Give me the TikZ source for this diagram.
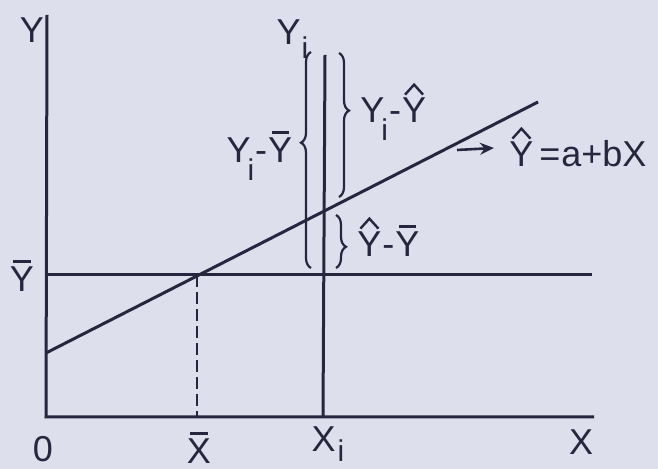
\documentclass[tikz,border=0pt]{standalone}
\usepackage{fontspec}
\setmainfont{Liberation Sans}
\setsansfont{Liberation Sans}
\usetikzlibrary{decorations.pathreplacing,arrows.meta}
\definecolor{bg}{RGB}{221,224,236}
\definecolor{ink}{RGB}{38,38,62}
\newsavebox\accbox
\newcommand\barY{\leavevmode\sbox\accbox{Y}\rlap{\raisebox{\dimexpr\ht\accbox+2.2pt}{\makebox[\wd\accbox]{\color{ink}\rule{0.72\wd\accbox}{1.3pt}}}}\usebox\accbox}
\newcommand\barX{\leavevmode\sbox\accbox{X}\rlap{\raisebox{\dimexpr\ht\accbox+2.2pt}{\makebox[\wd\accbox]{\color{ink}\rule{0.72\wd\accbox}{1.3pt}}}}\usebox\accbox}
\newcommand\hatY{\leavevmode\sbox\accbox{Y}\rlap{\raisebox{\dimexpr\ht\accbox+1.8pt}{\makebox[\wd\accbox]{\tikz[x=1pt,y=1pt,line width=1.2pt,baseline=0pt]\draw[ink,line join=miter] (0,0)--(4.5,5)--(9,0);}}}\usebox\accbox}
\newcommand\subi[1][-6pt]{\raisebox{#1}{\fontsize{15}{15}\selectfont i}}
\begin{document}
\begin{tikzpicture}[x=0.5pt,y=-0.5pt,line width=1.5pt,draw=ink,text=ink,
  lbl/.style={font=\fontsize{18}{21}\selectfont,inner sep=0pt},
  brc/.style={decorate,decoration={brace,amplitude=5pt,raise=0pt},line width=1.1pt},
  dashline/.style={dash pattern=on 6pt off 2.5pt,line width=1.4pt}]
\path[use as bounding box,fill=bg] (0,0) rectangle (658,469);
% axes
\coordinate (O) at (46,417);
\coordinate (Ytop) at (47,15);
\coordinate (Xend) at (594,417);
\draw (Ytop) -- (O) -- (Xend);
% mean line
\coordinate (Ybl) at (46,275);
\coordinate (Ybr) at (592,275);
\draw (Ybl) -- (Ybr);
% regression line
\coordinate (R0) at (46,353);
\coordinate (R1) at (538,102);
\draw (R0) -- (R1);
% dashed at Xbar
\coordinate (Xb) at (197,417);
\coordinate (Xbt) at (197,275);
\draw[dashline] (Xbt) -- (Xb);
% Xi line
\coordinate (Xi) at (323,417);
\coordinate (Xit) at (325,55);
\draw (Xi) -- (Xit);
% braces
\coordinate (B1a) at (311,268);
\coordinate (B1b) at (311,52);
\draw[brc,decoration={aspect=0.58}] (B1a) -- (B1b);
\coordinate (B2a) at (339,53);
\coordinate (B2b) at (339,197);
\draw[brc,decoration={aspect=0.4}] (B2a) -- (B2b);
\coordinate (B3a) at (336,215);
\coordinate (B3b) at (336,268);
\draw[brc,decoration={aspect=0.6}] (B3a) -- (B3b);
% labels
\node[lbl,anchor=base] (lY) at (32,43) {Y};
\node[lbl,anchor=base] (lYb) at (22,292) {\barY};
\node[lbl,anchor=base] (l0) at (43,462) {0};
\node[lbl,anchor=base] (lXb) at (199,464) {\barX};
\node[lbl,anchor=base west] (lXi) at (310,452) {X\kern1pt\subi[-5pt]};
\node[lbl,anchor=base] (lX) at (581,455) {X};
\node[lbl,anchor=base west] (lYi) at (275,45) {Y\kern0.5pt\subi[-7pt]};
\node[lbl,anchor=base west] (lYiYb) at (225,163) {Y\kern-1.5pt\subi[-9pt]\kern0.5pt-\kern0.5pt\barY};
\node[lbl,anchor=base west] (lYiYh) at (360,123) {Y\kern-1.5pt\subi[-9pt]\kern0.5pt-\kern0.5pt\hatY};
\node[lbl,anchor=base west] (lYhYb) at (357,257) {\hatY\kern0.5pt-\kern0.5pt\barY};
\coordinate (A0) at (457,150);
\coordinate (A1) at (494,148);
\draw[line width=1.3pt,-{Stealth[length=7pt,width=6pt]}] (A0) -- (A1);
\node[lbl,anchor=base west] (leq) at (509,167) {\hatY\kern3pt=\kern0.5pt a+bX};
\end{tikzpicture}
\end{document}
